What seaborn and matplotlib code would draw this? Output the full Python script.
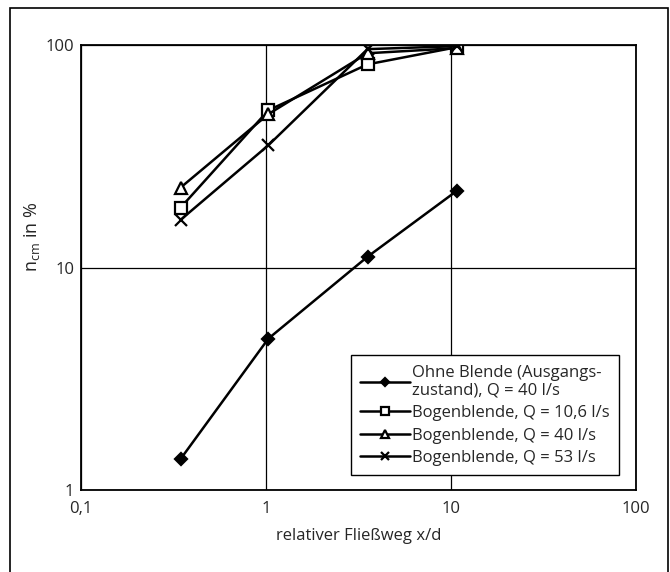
import numpy as np
import pandas as pd
import matplotlib
matplotlib.use('Agg')
import matplotlib.pyplot as plt
from matplotlib.ticker import FixedLocator, FixedFormatter, NullLocator
from matplotlib.patches import Rectangle
import seaborn as sns

sns.set_style('white')
plt.rcParams['font.family'] = ['Open Sans', 'DejaVu Sans']
plt.rcParams['mathtext.fontset'] = 'custom'
plt.rcParams['mathtext.rm'] = 'Open Sans'

x_vals = [0.345, 1.03, 3.54, 10.8]
ohne = [1.38, 4.8, 11.2, 22.2]
bogen_106 = [18.6, 51.0, 82.0, 98.0]
bogen_40 = [22.9, 49.0, 92.0, 97.0]
bogen_53 = [16.4, 35.5, 96.0, 99.0]

labels = ['Ohne Blende (Ausgangs-\nzustand), Q = 40 l/s',
          'Bogenblende, Q = 10,6 l/s',
          'Bogenblende, Q = 40 l/s',
          'Bogenblende, Q = 53 l/s']
x_ticks = [0.1, 1, 10, 100]
x_ticklabels = ['0,1', '1', '10', '100']
y_ticks = [1, 10, 100]
y_ticklabels = ['1', '10', '100']

fig = plt.figure(figsize=(6.7, 5.72), dpi=100)
ax = fig.add_axes([0.121, 0.143, 0.828, 0.778])

styles = [
    (ohne, 'D', 'black', 6),
    (bogen_106, 's', 'white', 8),
    (bogen_40, '^', 'white', 8),
    (bogen_53, 'x', 'black', 8),
]
for (vals, m, fc, ms), lab in zip(styles, labels):
    df = pd.DataFrame({'x': x_vals, 'y': vals})
    sns.lineplot(data=df, x='x', y='y', ax=ax, color='black', linewidth=1.8,
                 marker=m, markersize=ms, markerfacecolor=fc,
                 markeredgecolor='black', markeredgewidth=1.6, label=lab)

ax.set_xscale('log')
ax.set_yscale('log')
ax.set_xlim(0.1, 100)
ax.set_ylim(1, 100)
ax.xaxis.set_major_locator(FixedLocator(x_ticks))
ax.xaxis.set_major_formatter(FixedFormatter(x_ticklabels))
ax.yaxis.set_major_locator(FixedLocator(y_ticks))
ax.yaxis.set_major_formatter(FixedFormatter(y_ticklabels))
ax.xaxis.set_minor_locator(NullLocator())
ax.yaxis.set_minor_locator(NullLocator())
ax.tick_params(axis='both', labelsize=12, length=3, color='black', direction='inout')
ax.tick_params(axis='x', pad=6)
ax.grid(True, which='major', color='black', linewidth=0.9)
for s in ax.spines.values():
    s.set_color('black')
    s.set_linewidth(1.3)

ax.set_xlabel('relativer Fließweg x/d', fontsize=12, labelpad=8)
ax.set_ylabel(r'n$_{\mathrm{cm}}$ in %', fontsize=13)
ax.yaxis.set_label_coords(-0.07, 0.57)

leg = ax.legend(loc='lower right', bbox_to_anchor=(0.969, 0.034), fontsize=12,
                frameon=True, fancybox=False, handlelength=3.0, handletextpad=0.1,
                borderpad=0.55, labelspacing=0.38, borderaxespad=0, markerscale=0.7)
leg.get_frame().set_edgecolor('black')
leg.get_frame().set_linewidth(1.0)
leg.get_frame().set_alpha(1)

fig.add_artist(Rectangle((10 / 670, -0.05), 658 / 670, 1.05 - 8 / 572,
                         transform=fig.transFigure, fill=False,
                         edgecolor='black', linewidth=1.2))

fig.savefig('out.png', dpi=100)
plt.close()
